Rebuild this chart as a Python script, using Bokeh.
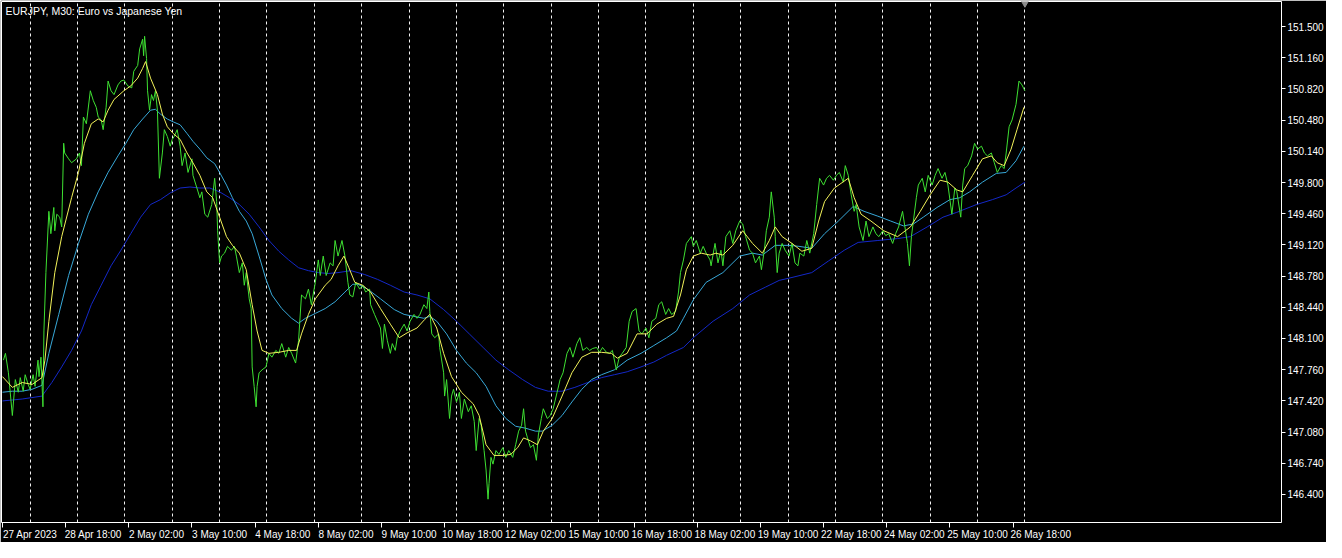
from bokeh.plotting import figure
from bokeh.models import FixedTicker, PrintfTickFormatter, Label, Range1d
from bokeh.embed import file_html
from bokeh.resources import INLINE

# ---------------- data (bar index on M30 chart, price) ----------------
title_text = "EURJPY, M30:  Euro vs Japanese Yen"

close_points = [
    (1, 147.864), (3, 147.938), (6, 147.726), (10, 147.260), (13, 147.652), (16, 147.514),
    (18, 147.673), (21, 147.525), (23, 147.705), (26, 147.599), (28, 147.546), (31, 147.705),
    (33, 147.578), (36, 147.864), (37, 147.684), (39, 147.896), (41, 147.355), (42, 148.182),
    (44, 148.818), (47, 149.486), (49, 149.242), (52, 149.528), (53, 149.274), (55, 149.454),
    (58, 149.422), (60, 149.316), (62, 150.228), (63, 150.122), (67, 150.058), (70, 150.016),
    (75, 150.058), (78, 150.122), (80, 149.984), (82, 150.514), (85, 150.440), (89, 150.800),
    (92, 150.694), (95, 150.620), (97, 150.514), (100, 150.482), (102, 150.376), (105, 150.620),
    (107, 150.906), (110, 150.800), (113, 150.758), (117, 150.864), (120, 150.906), (123, 150.917),
    (127, 150.853), (131, 150.832), (133, 151.012), (137, 151.076), (139, 151.256), (142, 151.362),
    (143, 151.182), (144, 151.394), (146, 151.150), (147, 150.800), (149, 150.588), (151, 150.758),
    (153, 150.694), (155, 150.800), (157, 150.588), (159, 149.846), (162, 150.122), (164, 150.376),
    (167, 150.302), (170, 150.196), (172, 150.270), (174, 150.302), (177, 150.376), (180, 150.196),
    (182, 149.984), (185, 150.122), (188, 149.910), (192, 150.058), (193, 149.878), (197, 149.740),
    (200, 149.634), (202, 149.698), (205, 149.454), (208, 149.422), (212, 149.560), (215, 149.846),
    (217, 149.592), (218, 149.274), (220, 148.924), (222, 148.998), (225, 149.030), (228, 149.104),
    (232, 149.062), (235, 149.104), (237, 148.998), (240, 148.818), (243, 148.924), (245, 148.680),
    (247, 148.818), (250, 148.532), (252, 148.426), (253, 147.790), (255, 147.578), (257, 147.355),
    (258, 147.578), (260, 147.726), (263, 147.758), (267, 147.790), (270, 147.938), (273, 147.896),
    (277, 147.970), (280, 147.938), (283, 148.044), (287, 147.896), (290, 148.002), (293, 147.938),
    (297, 147.832), (300, 148.076), (303, 148.574), (307, 148.532), (310, 148.638), (313, 148.468),
    (317, 148.712), (320, 148.956), (322, 148.786), (325, 148.998), (328, 148.786), (332, 148.924),
    (335, 148.892), (337, 149.168), (340, 148.998), (344, 149.168), (347, 148.998), (350, 148.712),
    (352, 148.574), (355, 148.553), (358, 148.712), (362, 148.638), (365, 148.680), (368, 148.606),
    (372, 148.638), (373, 148.468), (377, 148.362), (380, 148.288), (383, 148.214), (385, 147.991),
    (387, 148.256), (390, 148.076), (393, 147.938), (395, 148.044), (398, 147.970), (400, 148.108),
    (403, 148.182), (407, 148.256), (410, 148.182), (413, 148.288), (417, 148.362), (420, 148.320),
    (423, 148.362), (427, 148.468), (430, 148.426), (432, 148.606), (433, 148.394), (435, 148.150),
    (438, 148.108), (442, 148.150), (443, 148.002), (447, 147.726), (448, 147.472), (450, 147.652),
    (453, 147.228), (455, 147.472), (457, 147.546), (460, 147.408), (463, 147.514), (465, 147.228),
    (468, 147.440), (472, 147.302), (475, 147.366), (478, 147.196), (480, 146.878), (483, 147.228),
    (485, 147.154), (488, 146.878), (490, 146.666), (492, 146.348), (493, 146.518), (495, 146.804),
    (497, 146.730), (500, 146.878), (503, 146.836), (507, 146.910), (510, 146.804), (513, 146.878),
    (517, 146.804), (520, 146.942), (523, 147.090), (526, 147.154), (528, 147.334), (530, 147.090),
    (532, 147.016), (535, 146.910), (538, 146.942), (541, 146.772), (543, 147.048), (546, 147.228),
    (548, 147.334), (552, 147.228), (555, 147.260), (558, 147.334), (562, 147.514), (565, 147.652),
    (568, 147.726), (572, 147.938), (575, 148.002), (578, 147.896), (582, 148.044), (585, 148.108),
    (588, 147.970), (592, 148.002), (595, 147.970), (598, 147.991), (602, 148.002), (605, 147.949),
    (608, 148.002), (612, 147.949), (615, 147.938), (618, 147.970), (622, 147.758), (625, 147.896),
    (628, 147.938), (632, 148.002), (635, 148.288), (638, 148.394), (642, 148.426), (645, 148.182),
    (648, 148.150), (652, 148.214), (655, 148.108), (658, 148.288), (662, 148.320), (665, 148.468),
    (668, 148.500), (672, 148.362), (675, 148.426), (678, 148.362), (682, 148.394), (685, 148.606),
    (687, 148.818), (690, 148.956), (693, 149.136), (698, 149.210), (700, 149.104), (703, 149.168),
    (707, 149.030), (710, 149.104), (713, 149.030), (717, 148.956), (718, 148.892), (722, 149.136),
    (725, 148.924), (728, 149.062), (730, 148.892), (733, 149.210), (737, 149.274), (740, 149.136),
    (743, 149.274), (747, 149.380), (750, 149.348), (753, 149.210), (757, 149.062), (760, 149.030),
    (763, 148.924), (767, 148.998), (769, 148.850), (772, 149.062), (774, 149.274), (777, 149.422),
    (779, 149.698), (782, 149.422), (783, 149.210), (785, 148.818), (787, 149.030), (790, 149.136),
    (793, 149.062), (797, 148.998), (800, 149.136), (803, 148.924), (806, 148.892), (808, 149.030),
    (812, 148.998), (815, 149.168), (818, 149.030), (822, 149.242), (825, 149.560), (828, 149.846),
    (832, 149.772), (835, 149.846), (838, 149.878), (842, 149.825), (845, 149.878), (848, 149.910),
    (852, 149.804), (854, 149.984), (857, 149.878), (860, 149.666), (863, 149.486), (865, 149.560),
    (868, 149.316), (872, 149.168), (875, 149.380), (878, 149.210), (882, 149.316), (885, 149.242),
    (888, 149.210), (892, 149.274), (895, 149.221), (898, 149.242), (902, 149.136), (905, 149.242),
    (908, 149.316), (912, 149.486), (915, 149.274), (917, 149.136), (919, 148.892), (921, 149.210),
    (923, 149.380), (926, 149.634), (928, 149.772), (932, 149.846), (935, 149.698), (938, 149.878),
    (942, 149.772), (945, 149.878), (948, 149.952), (952, 149.846), (955, 149.910), (958, 149.772),
    (962, 149.454), (965, 149.740), (967, 149.698), (971, 149.422), (973, 149.772), (975, 149.952),
    (978, 149.984), (982, 150.090), (985, 150.227), (988, 150.164), (992, 150.196), (995, 150.122),
    (998, 150.090), (1002, 150.122), (1005, 150.015), (1008, 149.910), (1012, 149.984), (1015, 149.952),
    (1017, 150.121), (1020, 150.408), (1023, 150.482), (1027, 150.652), (1030, 150.906), (1033, 150.864),
    (1036, 150.800),
]

ma_fast_points = [
    (0, 147.684), (10, 147.567), (20, 147.620), (30, 147.599), (40, 147.673), (43, 147.864),
    (47, 148.288), (53, 148.818), (60, 149.210), (70, 149.634), (77, 149.910), (83, 150.227),
    (90, 150.440), (97, 150.493), (102, 150.461), (107, 150.588), (113, 150.705), (123, 150.800),
    (130, 150.853), (137, 150.938), (142, 151.044), (145, 151.118), (150, 150.938), (157, 150.758),
    (162, 150.546), (167, 150.408), (173, 150.334), (180, 150.270), (187, 150.122), (193, 150.015),
    (200, 149.878), (207, 149.698), (213, 149.634), (220, 149.422), (227, 149.210), (233, 149.115),
    (240, 149.030), (247, 148.850), (253, 148.468), (258, 148.182), (263, 147.970), (270, 147.938),
    (280, 147.949), (290, 147.970), (298, 147.970), (303, 148.150), (310, 148.362), (317, 148.532),
    (327, 148.680), (333, 148.744), (340, 148.892), (346, 148.998), (351, 148.871), (357, 148.712),
    (365, 148.680), (373, 148.606), (383, 148.426), (393, 148.256), (402, 148.108), (410, 148.161),
    (420, 148.214), (428, 148.309), (433, 148.362), (440, 148.214), (447, 147.938), (455, 147.684),
    (465, 147.514), (477, 147.387), (483, 147.260), (490, 146.942), (498, 146.825), (507, 146.825),
    (515, 146.836), (522, 146.910), (528, 147.016), (535, 146.984), (542, 146.942), (548, 147.090),
    (557, 147.228), (567, 147.472), (577, 147.726), (587, 147.896), (597, 147.949), (607, 147.949),
    (617, 147.938), (623, 147.885), (633, 147.938), (643, 148.150), (653, 148.150), (663, 148.256),
    (673, 148.320), (680, 148.341), (687, 148.574), (693, 148.850), (700, 148.998), (708, 149.030),
    (717, 149.009), (723, 149.030), (730, 149.009), (740, 149.115), (750, 149.274), (760, 149.136),
    (770, 149.030), (777, 149.168), (783, 149.316), (790, 149.210), (800, 149.136), (810, 149.051),
    (820, 149.083), (827, 149.380), (833, 149.592), (843, 149.740), (857, 149.846), (863, 149.634),
    (870, 149.454), (880, 149.380), (893, 149.274), (907, 149.210), (920, 149.316), (930, 149.486),
    (940, 149.666), (950, 149.825), (958, 149.804), (967, 149.719), (973, 149.698), (983, 149.878),
    (993, 150.058), (1002, 150.090), (1008, 150.015), (1015, 149.984), (1022, 150.164), (1028, 150.376),
    (1035, 150.620),
]

ma_mid_points = [
    (0, 147.514), (10, 147.525), (20, 147.525), (30, 147.546), (40, 147.589), (47, 147.938),
    (57, 148.362), (67, 148.786), (77, 149.136), (87, 149.454), (97, 149.698), (107, 149.910),
    (117, 150.090), (125, 150.227), (133, 150.376), (142, 150.492), (150, 150.588), (155, 150.598),
    (160, 150.546), (167, 150.492), (173, 150.461), (180, 150.429), (187, 150.334), (193, 150.249),
    (200, 150.164), (207, 150.069), (215, 150.005), (220, 149.910), (227, 149.772), (233, 149.634),
    (240, 149.486), (247, 149.380), (253, 149.242), (260, 148.998), (267, 148.744), (273, 148.574),
    (283, 148.426), (293, 148.320), (300, 148.267), (307, 148.320), (317, 148.373), (327, 148.426),
    (337, 148.500), (347, 148.606), (355, 148.691), (360, 148.691), (370, 148.638), (383, 148.532),
    (397, 148.415), (407, 148.362), (417, 148.341), (427, 148.320), (433, 148.341), (440, 148.288),
    (450, 148.150), (460, 147.970), (470, 147.832), (480, 147.726), (490, 147.578), (500, 147.366),
    (510, 147.228), (520, 147.143), (530, 147.122), (540, 147.090), (547, 147.090), (557, 147.154),
    (567, 147.260), (577, 147.408), (587, 147.546), (597, 147.652), (607, 147.705), (620, 147.758),
    (633, 147.864), (647, 147.938), (660, 148.023), (673, 148.108), (683, 148.182), (690, 148.320),
    (700, 148.521), (713, 148.712), (730, 148.818), (747, 148.998), (760, 149.030), (770, 149.009),
    (783, 149.115), (797, 149.115), (807, 149.104), (820, 149.083), (833, 149.242), (847, 149.380),
    (862, 149.539), (873, 149.486), (887, 149.433), (900, 149.380), (913, 149.327), (923, 149.348),
    (933, 149.422), (947, 149.528), (960, 149.613), (970, 149.634), (980, 149.698), (993, 149.804),
    (1007, 149.899), (1017, 149.910), (1027, 150.037), (1035, 150.196),
]

ma_slow_points = [
    (0, 147.419), (20, 147.440), (40, 147.472), (50, 147.620), (60, 147.790), (70, 147.970),
    (80, 148.182), (90, 148.468), (100, 148.680), (110, 148.892), (120, 149.062), (130, 149.242),
    (140, 149.422), (150, 149.560), (160, 149.613), (170, 149.687), (180, 149.740), (190, 149.751),
    (200, 149.740), (210, 149.740), (220, 149.698), (230, 149.634), (240, 149.560), (250, 149.454),
    (260, 149.316), (270, 149.168), (280, 149.051), (290, 148.956), (300, 148.871), (310, 148.839),
    (320, 148.818), (330, 148.808), (340, 148.818), (353, 148.839), (367, 148.797), (380, 148.744),
    (393, 148.680), (407, 148.606), (420, 148.574), (433, 148.532), (447, 148.415), (460, 148.288),
    (473, 148.150), (487, 148.002), (500, 147.864), (513, 147.758), (527, 147.652), (540, 147.567),
    (553, 147.525), (567, 147.525), (580, 147.567), (593, 147.620), (607, 147.673), (620, 147.705),
    (633, 147.737), (647, 147.790), (660, 147.843), (673, 147.917), (690, 148.002), (700, 148.108),
    (720, 148.288), (740, 148.426), (757, 148.574), (773, 148.659), (787, 148.733), (800, 148.765),
    (820, 148.818), (837, 148.945), (853, 149.062), (867, 149.147), (887, 149.168), (907, 149.189),
    (920, 149.210), (937, 149.316), (953, 149.422), (967, 149.475), (987, 149.560), (1003, 149.613),
    (1017, 149.666), (1027, 149.740), (1036, 149.804),
]

# price scale ticks (right axis)
price_ticks = [146.400, 146.740, 147.080, 147.420, 147.760, 148.100, 148.440, 148.780,
               149.120, 149.460, 149.800, 150.140, 150.480, 150.820, 151.160, 151.500]

# time scale: bar index of each label and its text
time_tick_bars = [0, 64, 128, 192, 256, 320, 384, 448, 512, 576, 640, 704, 768, 832, 896, 960, 1024]
time_tick_labels = ["27 Apr 2023", "28 Apr 18:00", "2 May 02:00", "3 May 10:00", "4 May 18:00",
                    "8 May 02:00", "9 May 10:00", "10 May 18:00", "12 May 02:00", "15 May 10:00",
                    "16 May 18:00", "18 May 02:00", "19 May 10:00", "22 May 18:00", "24 May 02:00",
                    "25 May 10:00", "26 May 18:00"]

# day separators (bar index of each day start)
day_start_bars = [28, 76, 124, 172, 220, 268, 316, 364, 412, 460, 508, 556, 604, 652, 700,
                  748, 796, 844, 892, 940, 988, 1036]

# ---------------- figure ----------------
FONT = "Liberation Sans"
x_lo, x_hi = -1, 1296
y_lo, y_hi = 146.094, 151.773

p = figure(width=1326, height=542, output_backend="svg", toolbar_location=None,
           y_axis_location="right", x_range=Range1d(x_lo, x_hi), y_range=Range1d(y_lo, y_hi),
           min_border=0, min_border_left=1, min_border_top=1)
p.background_fill_color = "black"
p.border_fill_color = "black"
p.outline_line_color = "white"
p.outline_line_width = 1

# grid: dashed vertical day separators
p.ygrid.visible = False
p.xgrid.ticker = FixedTicker(ticks=day_start_bars)
p.xgrid.grid_line_color = "white"
p.xgrid.grid_line_dash = "3 3"
p.xgrid.grid_line_width = 1
p.xgrid.grid_line_alpha = 0.95

# right price axis
p.yaxis.ticker = FixedTicker(ticks=price_ticks)
p.yaxis.formatter = PrintfTickFormatter(format="%.3f")
p.yaxis.axis_line_color = None
p.yaxis.major_tick_line_color = "white"
p.yaxis.major_tick_in = 0
p.yaxis.major_tick_out = 4
p.yaxis.minor_tick_line_color = None
p.yaxis.major_label_text_color = "white"
p.yaxis.major_label_text_font = FONT
p.yaxis.major_label_text_font_size = "10px"
p.yaxis.major_label_standoff = 2

# bottom time axis: labels left-aligned after their tick (label centre shifted right)
label_shift = 28
label_centres = [b + label_shift for b in time_tick_bars]
p.xaxis.ticker = FixedTicker(ticks=label_centres, minor_ticks=time_tick_bars)
p.xaxis.major_label_overrides = {c: t for c, t in zip(label_centres, time_tick_labels)}
p.xaxis.axis_line_color = None
p.xaxis.major_tick_line_color = None
p.xaxis.major_tick_in = 0
p.xaxis.major_tick_out = 5
p.xaxis.minor_tick_line_color = "white"
p.xaxis.minor_tick_in = 0
p.xaxis.minor_tick_out = 5
p.xaxis.major_label_text_color = "white"
p.xaxis.major_label_text_font = FONT
p.xaxis.major_label_text_font_size = "10px"
p.xaxis.major_label_standoff = 1

# series
def unzip(points):
    return [a for a, _ in points], [b for _, b in points]

for pts, color in [(ma_slow_points, "#1428c8"), (ma_mid_points, "#38a8d8"),
                   (close_points, "#3ee032"), (ma_fast_points, "#f2f25a")]:
    xs, ys = unzip(pts)
    p.line(xs, ys, line_color=color, line_width=1)

# chart-shift marker at the last bar
last_bar = close_points[-1][0]
p.scatter([last_bar], [y_hi], marker="inverted_triangle", size=10, fill_color="#8c8c8c",
          line_color="#8c8c8c")

# chart caption
p.add_layout(Label(x=x_lo, y=y_hi, x_offset=4, y_offset=-3, text=title_text,
                   text_color="white", text_font=FONT, text_font_size="10.5px",
                   text_baseline="top"))

open("out.html", "w").write(file_html(p, INLINE))
